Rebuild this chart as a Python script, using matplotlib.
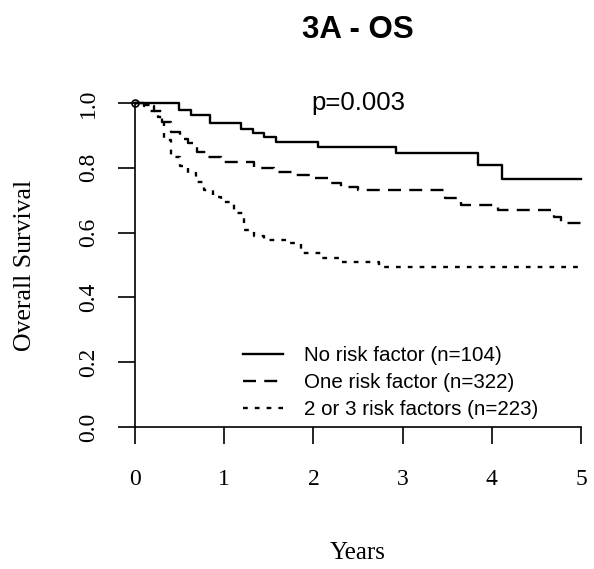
import matplotlib
matplotlib.use('Agg')
import matplotlib.pyplot as plt

# Kaplan-Meier step points (years, survival)
none_t = [0, 0.49, 0.63, 0.84, 1.19, 1.32, 1.45, 1.58, 2.05, 2.93, 3.85, 4.12, 5.0]
none_s = [1.0, 0.978, 0.963, 0.938, 0.92, 0.907, 0.895, 0.88, 0.864, 0.846, 0.809, 0.765, 0.765]

one_t = [0, 0.10, 0.21, 0.30, 0.40, 0.50, 0.59, 0.70, 0.82, 0.96, 1.19, 1.33, 1.56, 1.78, 2.0,
         2.16, 2.31, 2.5, 3.47, 3.65, 4.07, 4.70, 4.78, 5.0]
one_s = [1.0, 0.99, 0.975, 0.94, 0.91, 0.89, 0.876, 0.85, 0.833, 0.818, 0.818, 0.80, 0.787, 0.778,
         0.768, 0.753, 0.741, 0.731, 0.707, 0.685, 0.670, 0.648, 0.63, 0.63]

multi_t = [0, 0.07, 0.17, 0.26, 0.33, 0.40, 0.50, 0.59, 0.68, 0.77, 0.87, 0.96, 1.11, 1.22,
           1.33, 1.45, 1.72, 1.86, 2.09, 2.31, 2.74, 5.0]
multi_s = [1.0, 0.994, 0.975, 0.957, 0.886, 0.833, 0.805, 0.784, 0.757, 0.731, 0.71, 0.694,
           0.66, 0.608, 0.59, 0.577, 0.568, 0.537, 0.522, 0.509, 0.494, 0.494]

labels = ['No risk factor (n=104)', 'One risk factor (n=322)', '2 or 3 risk factors (n=223)']
p_text = 'p=0.003'

fig = plt.figure(figsize=(5.94, 5.69), dpi=100)
ax = fig.add_axes([0.2273, 0.2496, 0.7508, 0.5694])

ax.step(none_t, none_s, where='post', color='black', lw=1.7, clip_on=False,
        label=labels[0])
ax.step(one_t, one_s, where='post', color='black', lw=1.7, clip_on=False,
        linestyle=(0, (5.5, 3.5)), label=labels[1])
ax.step(multi_t, multi_s, where='post', color='black', lw=1.7, clip_on=False,
        linestyle=(0, (2.0, 3.0)), label=labels[2])
# small censor circle at the start
ax.plot(multi_t[:1], multi_s[:1], marker='o', ms=5, mfc='none', mec='black',
        mew=1.2, clip_on=False)

ax.set_xlim(0, 5)
ax.set_ylim(0, 1)
ax.set_xticks([0, 1, 2, 3, 4, 5])
ax.set_yticks([0, 0.2, 0.4, 0.6, 0.8, 1.0])
ax.set_yticklabels(['0.0', '0.2', '0.4', '0.6', '0.8', '1.0'])

for side in ['top', 'right']:
    ax.spines[side].set_visible(False)
for side in ['left', 'bottom']:
    ax.spines[side].set_linewidth(1.2)

serif = 'Liberation Serif'
ax.tick_params(axis='both', length=12, width=1.2, direction='out')
ax.tick_params(axis='x', pad=18)
ax.tick_params(axis='y', pad=14)
for lab in ax.get_xticklabels():
    lab.set_fontfamily(serif)
    lab.set_fontsize(17)
for lab in ax.get_yticklabels():
    lab.set_fontfamily(serif)
    lab.set_fontsize(17)
    lab.set_rotation(90)
    lab.set_va('center')

ax.set_xlabel('Years', fontfamily=serif, fontsize=18, va='center')
ax.set_ylabel('Overall Survival', fontfamily=serif, fontsize=18.5, va='center')
ax.xaxis.set_label_coords(0.5, -0.389)
ax.yaxis.set_label_coords(-0.247, 0.5)

ax.text(0.5, 1.2, '3A - OS', transform=ax.transAxes, ha='center', va='baseline',
        fontfamily='Liberation Sans', fontsize=22.5, fontweight='bold')
ax.text(0.5, 1.0, p_text, transform=ax.transAxes, ha='center', va='center',
        fontfamily='Liberation Sans', fontsize=18.5)

ax.legend(loc='upper left', bbox_to_anchor=(0.242, 0.25), frameon=False,
          prop={'family': 'Liberation Sans', 'size': 14.8},
          handlelength=1.95, handletextpad=1.0, labelspacing=0.4,
          borderpad=0, borderaxespad=0)

fig.savefig('out.png', dpi=100)
